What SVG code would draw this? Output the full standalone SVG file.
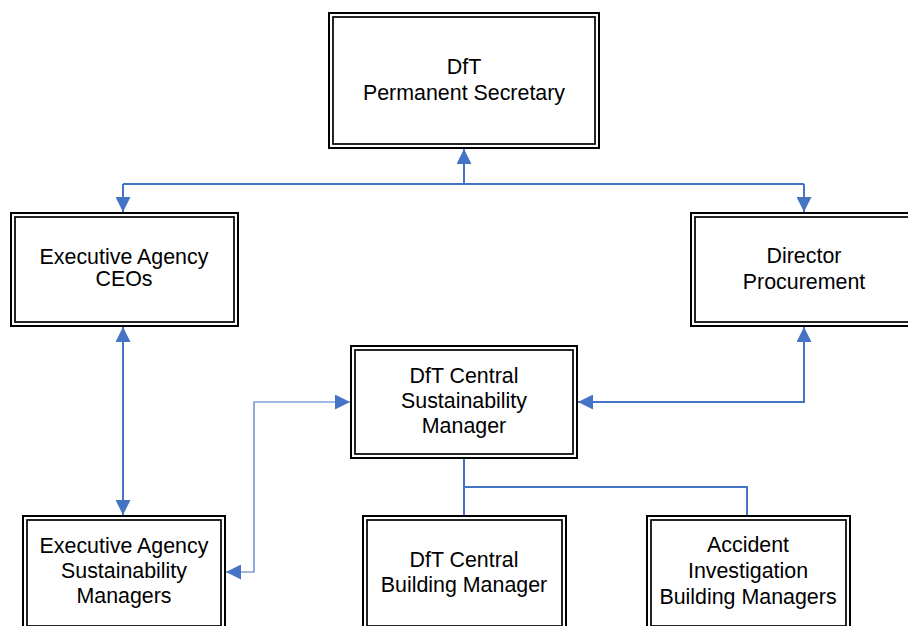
<svg xmlns="http://www.w3.org/2000/svg" width="908" height="626" viewBox="0 0 908 626">
<style>
  .o { fill: #fff; stroke: #000; stroke-width: 2; }
  .i { fill: none; stroke: #000; stroke-width: 1.7; }
  .t { font-family: "Liberation Sans", Arial, sans-serif; font-size: 21.4px; fill: #000; text-anchor: middle; }
  .c { fill: none; stroke: #4674C4; stroke-width: 2; }
  .c1 { fill: none; stroke: #4674C4; stroke-width: 1.2; }
</style>
<defs>
  <marker id="ar" markerUnits="userSpaceOnUse" markerWidth="15" markerHeight="15" viewBox="0 0 15 15" refX="15" refY="7.5" orient="auto-start-reverse">
    <path d="M0,0 L15,7.5 L0,15 z" fill="#4674C4"/>
  </marker>
</defs>
<rect width="908" height="626" fill="#fff"/>

<g id="connectors">
  <path class="c" d="M464,184 V149" marker-end="url(#ar)"/>
  <path class="c" d="M123,184 H804"/>
  <path class="c" d="M123,184 V212" marker-end="url(#ar)"/>
  <path class="c" d="M804,184 V212" marker-end="url(#ar)"/>
  <path class="c" d="M123,327 V515" marker-start="url(#ar)" marker-end="url(#ar)"/>
  <path class="c" d="M804,327 V402 H578" marker-start="url(#ar)" marker-end="url(#ar)"/>
  <path class="c1" d="M226,572 H254 V402 H350" marker-start="url(#ar)" marker-end="url(#ar)"/>
  <path class="c" d="M464,459 V515"/>
  <path class="c" d="M464,487 H747 V515"/>
</g>

<g id="permanent-secretary">
  <rect class="o" x="329" y="13" width="270" height="135"/>
  <rect class="i" x="333" y="17" width="262" height="127"/>
  <text class="t" x="464" y="74">DfT</text>
  <text class="t" x="464" y="100">Permanent Secretary</text>
</g>

<g id="exec-agency-ceos">
  <rect class="o" x="11" y="213" width="227" height="113"/>
  <rect class="i" x="15" y="217" width="219" height="105"/>
  <text class="t" x="124" y="264">Executive Agency</text>
  <text class="t" x="124" y="286">CEOs</text>
</g>

<g id="director-procurement">
  <rect class="o" x="691" y="213" width="226" height="113"/>
  <rect class="i" x="695" y="217" width="218" height="105"/>
  <text class="t" x="804" y="263">Director</text>
  <text class="t" x="804" y="289">Procurement</text>
</g>

<g id="central-sustainability-manager">
  <rect class="o" x="351" y="346" width="226" height="112"/>
  <rect class="i" x="355" y="350" width="218" height="104"/>
  <text class="t" x="464" y="383">DfT Central</text>
  <text class="t" x="464" y="408">Sustainability</text>
  <text class="t" x="464" y="433">Manager</text>
</g>

<g id="exec-agency-sustainability-managers">
  <rect class="o" x="23" y="516" width="202" height="114"/>
  <rect class="i" x="27" y="520" width="194" height="106"/>
  <text class="t" x="124" y="553">Executive Agency</text>
  <text class="t" x="124" y="578">Sustainability</text>
  <text class="t" x="124" y="603">Managers</text>
</g>

<g id="central-building-manager">
  <rect class="o" x="363" y="516" width="203" height="114"/>
  <rect class="i" x="367" y="520" width="195" height="106"/>
  <text class="t" x="464" y="567">DfT Central</text>
  <text class="t" x="464" y="592">Building Manager</text>
</g>

<g id="accident-investigation-building-managers">
  <rect class="o" x="647" y="516" width="203" height="114"/>
  <rect class="i" x="651" y="520" width="195" height="106"/>
  <text class="t" x="748" y="552">Accident</text>
  <text class="t" x="748" y="578">Investigation</text>
  <text class="t" x="748" y="604">Building Managers</text>
</g>
</svg>
